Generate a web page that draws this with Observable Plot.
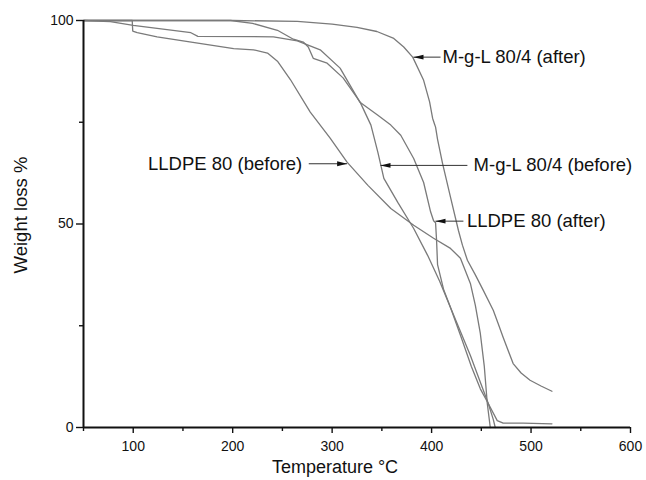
<!DOCTYPE html>
<html><head><meta charset="utf-8">
<script src="https://cdn.jsdelivr.net/npm/d3@7"></script>
<script src="https://cdn.jsdelivr.net/npm/@observablehq/plot@0.6"></script>
<style>body{margin:0;background:#fff} #chart svg{display:block}</style>
</head><body><div id="chart"></div>
<script>
// Series: temperature (°C) and weight (%)
const mglAfterT = [50,200,265,300,325,345,362,372,381,392,398,401,403,404,406,411,419,427,431,436,444,452,462,467,472,482,490,499,510,521];
const mglAfterW = [100,100,99.8,99.1,98.3,97.3,95.6,93.5,91.0,85.3,80,76,74.5,73.8,70.8,64.9,56.6,48.4,44.8,41.1,37.5,33.7,28.8,25.5,22.1,15.7,13.4,11.6,10.2,8.9];

const lldpeBeforeT = [50,99,99.5,104,124,160,201,221,235,245,258,278,298,315,336,359,382,402,419,429,439,444,449,453,456,459];
const lldpeBeforeW = [100,100,97.4,97.0,96.0,94.6,93.1,92.8,92.0,90.0,85.5,77.5,71.1,65.2,59.5,53.8,49.7,46.5,44.0,41.6,35.4,30,23.1,15,5.9,0];

const mglBeforeT = [50,198,220,245,261,271,276,281,295,311,328,339,346,352,366,382,396,408,419,430,440,449,457,462,464];
const mglBeforeW = [100,100,99.3,97.6,95.4,94.7,93.5,90.7,89.5,85.9,80.0,74.3,67.6,61.2,55.3,48.9,42.3,36,29.5,22,15,9.5,5.9,2,0];

const lldpeAfterT = [50,77,100,158,165,241,265,288,308,328,346,359,369,382,392,399,402,404,405,406,412,419,439,457,466,472,492,521];
const lldpeAfterW = [100,99.7,98.8,97.0,96.1,96.0,95.0,92.8,88.3,79.9,76.7,74.3,71.8,66.1,60.2,53,50.8,50.3,46,40,34,29.5,17.7,5.9,1.7,1.06,1.06,0.9];

const seriesNames = ["M-g-L 80/4 (after)", "LLDPE 80 (before)", "M-g-L 80/4 (before)", "LLDPE 80 (after)"];
const seriesT = [mglAfterT, lldpeBeforeT, mglBeforeT, lldpeAfterT];
const seriesW = [mglAfterW, lldpeBeforeW, mglBeforeW, lldpeAfterW];

// Ticks
const xMajor = [100,200,300,400,500,600];
const xMinor = [50,150,250,350,450,550];
const yMajor = [0,50,100];
const yMinor = [25,75];

// Annotations
const annLabels = ["M-g-L 80/4 (after)", "M-g-L 80/4 (before)", "LLDPE 80 (after)", "LLDPE 80 (before)"];
const annTailT = [409, 436, 432, 276.5];
const annHeadT = [381.8, 348.6, 403.9, 315.1];
const annW = [91.0, 64.4, 50.7, 64.8];
const annTextT = [410, 441.2, 434.5, 270];
const annAnchor = ["start", "start", "start", "end"];
const annDir = ["left", "left", "left", "right"];

const rows = [];
seriesNames.forEach((name, i) => seriesT[i].forEach((t, j) => rows.push({name, t, w: seriesW[i][j]})));
const ann = annLabels.map((label, i) => ({label, tail: annTailT[i], head: annHeadT[i], w: annW[i], tt: annTextT[i], anchor: annAnchor[i], dir: annDir[i]}));

const arrowLeft = {draw(ctx) { ctx.moveTo(0, 0); ctx.lineTo(10, -2.4); ctx.lineTo(10, 2.4); ctx.closePath(); }};
const arrowRight = {draw(ctx) { ctx.moveTo(0, 0); ctx.lineTo(-10, -2.4); ctx.lineTo(-10, 2.4); ctx.closePath(); }};

const chart = Plot.plot({
  width: 646,
  height: 480,
  marginLeft: 83,
  marginRight: 16,
  marginTop: 20,
  marginBottom: 53,
  style: {fontFamily: "'Liberation Sans', Arial, Helvetica, sans-serif", fontSize: "14px", color: "#111", background: "#fff"},
  x: {domain: [50, 600]},
  y: {domain: [0, 100]},
  marks: [
    Plot.line(rows, {x: "t", y: "w", z: "name", stroke: "#7a7a7a", strokeWidth: 1.3, curve: "linear"}),
    Plot.axisX(xMajor, {tickSize: 6, tickPadding: 8, fontSize: 14, label: null, stroke: "#111", strokeWidth: 1.4}),
    Plot.axisX(xMinor, {tickSize: 4, tickFormat: () => "", label: null, stroke: "#111", strokeWidth: 1.4}),
    Plot.axisY(yMajor, {tickSize: 7, tickPadding: 3, fontSize: 14, label: null, stroke: "#111", strokeWidth: 1.4}),
    Plot.axisY(yMinor, {tickSize: 4, tickFormat: () => "", label: null, stroke: "#111", strokeWidth: 1.4}),
    Plot.ruleX([50], {stroke: "#111", strokeWidth: 2}),
    Plot.ruleY([0], {stroke: "#111", strokeWidth: 2}),
    Plot.link(ann, {x1: "tail", x2: "head", y1: "w", y2: "w", stroke: "#333", strokeWidth: 1}),
    Plot.dot(ann.filter(d => d.dir === "left"), {x: "head", y: "w", symbol: arrowLeft, fill: "#111", stroke: "none"}),
    Plot.dot(ann.filter(d => d.dir === "right"), {x: "head", y: "w", symbol: arrowRight, fill: "#111", stroke: "none"}),
    Plot.text(ann, {x: "tt", y: "w", text: "label", textAnchor: "start", lineAnchor: "middle", fontSize: 18.5, fill: "#111", filter: d => d.anchor === "start", dx: 1}),
    Plot.text(ann, {x: "tt", y: "w", text: "label", textAnchor: "end", lineAnchor: "middle", fontSize: 18.5, fill: "#111", filter: d => d.anchor === "end"}),
    Plot.text(["Temperature °C"], {frameAnchor: "bottom", dx: -22, dy: 40, fontSize: 18, fill: "#111", textAnchor: "middle", lineAnchor: "middle"}),
    Plot.text(["Weight loss %"], {frameAnchor: "left", dx: -62, dy: -9, rotate: -90, fontSize: 18.5, fill: "#111", textAnchor: "middle", lineAnchor: "middle"})
  ]
});
document.getElementById("chart").appendChild(chart);
</script>
</body></html>
